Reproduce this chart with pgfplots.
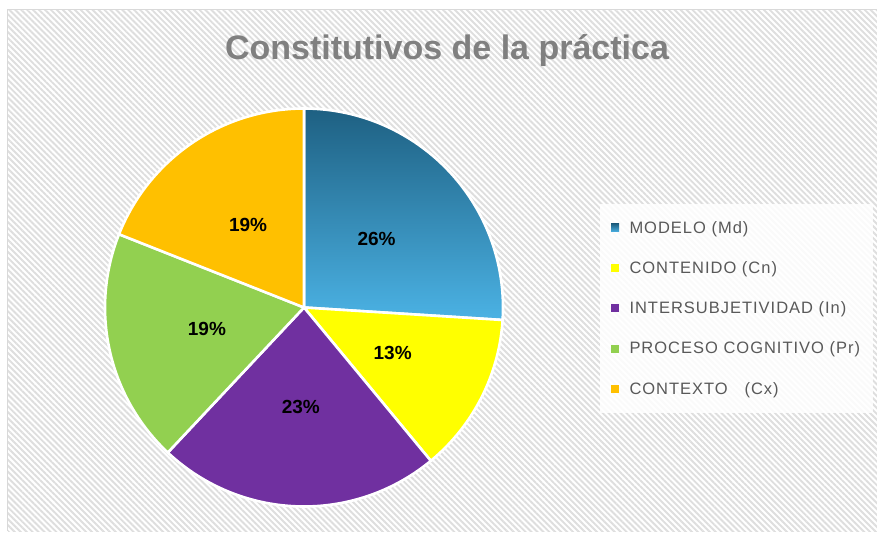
\documentclass[border=0pt]{standalone}
\usepackage{pgfplots}
\pgfplotsset{compat=1.18}
\usepackage{pgfplotstable}
\usetikzlibrary{patterns.meta}
\usepackage{fontspec}
\setmainfont{Liberation Sans}
\newfontfamily\legfont[LetterSpace=6]{Liberation Sans}

\definecolor{cMdTop}{RGB}{30,96,130}
\definecolor{cMdBot}{RGB}{75,178,228}
\definecolor{cCn}{RGB}{255,255,0}
\definecolor{cIn}{RGB}{112,48,160}
\definecolor{cPr}{RGB}{146,208,80}
\definecolor{cCx}{RGB}{255,192,0}
\definecolor{hatch}{RGB}{222,222,222}
\definecolor{framegray}{RGB}{217,217,217}
\definecolor{titlegray}{RGB}{128,128,128}
\definecolor{leggray}{RGB}{89,89,89}

\pgfplotstableread{
name value
Md 26
Cn 13
In 23
Pr 19
Cx 19
}\piedata

\def\cx{304}\def\cy{307.5}\def\R{199}
\def\cum{0}

\newcommand\buildwedge[3]{%
  \xdef\tmpc{(\cx,\cy)}%
  \foreach \k in {0,...,72}{%
    \pgfmathsetmacro\ang{#2+(#3-#2)*\k/72}%
    \pgfmathsetmacro\px{\cx+\R*cos(\ang)}%
    \pgfmathsetmacro\py{\cy-\R*sin(\ang)}%
    \xdef\tmpc{\tmpc (\px,\py)}%
  }%
  \xdef\tmpc{\tmpc (\cx,\cy)}%
  \global\expandafter\let\csname wedge#1\endcsname\tmpc
}

\newcommand\processrow[1]{%
  \pgfplotstablegetelem{#1}{value}\of\piedata
  \let\val\pgfplotsretval
  \pgfmathsetmacro\sa{90-3.6*\cum}%
  \pgfmathsetmacro\newcum{\cum+\val}%
  \pgfmathsetmacro\ea{90-3.6*\newcum}%
  \xdef\cum{\newcum}%
  \buildwedge{#1}{\sa}{\ea}%
  \pgfmathsetmacro\ma{(\sa+\ea)/2}%
  \pgfmathsetmacro\lx{\cx+0.5*\R*cos(\ma)}%
  \pgfmathsetmacro\ly{\cy-0.5*\R*sin(\ma)}%
  \expandafter\xdef\csname labx#1\endcsname{\lx}%
  \expandafter\xdef\csname laby#1\endcsname{\ly}%
  \expandafter\xdef\csname labv#1\endcsname{\val}%
}

\newcommand\addwedge[2]{%
  \expandafter\expandafter\expandafter\addwedgeaux
  \expandafter\expandafter\expandafter{\csname wedge#1\endcsname}{#2}%
}
\newcommand\addwedgeaux[2]{\addplot[#2] coordinates {#1};}

\newcommand\pielabel[1]{%
  \node[font=\bfseries\fontsize{19}{19}\selectfont, text=black]
    at (axis cs:\csname labx#1\endcsname,\csname laby#1\endcsname)
    {\csname labv#1\endcsname\%};
}

\processrow{0}
\processrow{1}
\processrow{2}
\processrow{3}
\processrow{4}

\begin{document}
\begin{tikzpicture}
\begin{axis}[
  scale only axis,
  width=877pt, height=535pt,
  xmin=0, xmax=877, ymin=0, ymax=535,
  y dir=reverse,
  hide axis,
  legend style={
    at={(axis cs:600,204)}, anchor=north west,
    draw=none, fill=white, fill opacity=0.85, text opacity=1,
    font=\legfont\fontsize{16.5}{16.5}\selectfont, text=leggray,
    inner xsep=11pt, inner ysep=15pt, row sep=22.8pt,
    cells={anchor=west},
  },
  legend image code/.code={%
    \path[#1, draw=none, fill opacity=1] (0pt,-4pt) rectangle (8pt,4pt);
    \path (15pt,0pt);
  },
]
\fill[white] (axis cs:0,0) rectangle (axis cs:877,535);
\fill[pattern={Lines[angle=-45,distance=4.2pt,line width=1.9pt]}, pattern color=hatch]
  (axis cs:8,10) rectangle (axis cs:877,531);
\draw[framegray, line width=1.6pt] (axis cs:7.5,531) -- (axis cs:7.5,9.5) -- (axis cs:877,9.5);
\node[font=\bfseries\fontsize{34}{34}\selectfont, text=titlegray] at (axis cs:447,51)
  {Constitutivos de la práctica};

\addwedge{0}{shade, top color=cMdTop, bottom color=cMdBot, draw=white, line width=2.6pt, line join=round}
\addwedge{1}{fill=cCn, draw=white, line width=2.6pt, line join=round}
\addwedge{2}{fill=cIn, draw=white, line width=2.6pt, line join=round}
\addwedge{3}{fill=cPr, draw=white, line width=2.6pt, line join=round}
\addwedge{4}{fill=cCx, draw=white, line width=2.6pt, line join=round}

\legend{MODELO (Md), CONTENIDO (Cn), INTERSUBJETIVIDAD (In), PROCESO COGNITIVO (Pr), CONTEXTO \ \ (Cx)}

\pielabel{0}
\pielabel{1}
\pielabel{2}
\pielabel{3}
\pielabel{4}
\end{axis}
\end{tikzpicture}
\end{document}
